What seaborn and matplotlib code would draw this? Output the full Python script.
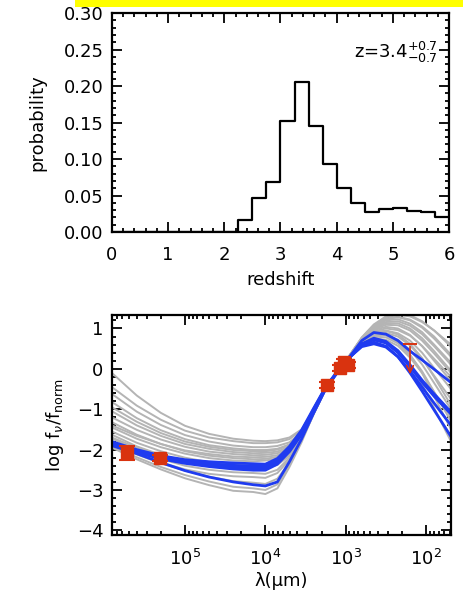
import numpy as np
import pandas as pd
import seaborn as sns
import matplotlib
matplotlib.use("Agg")
import matplotlib.pyplot as plt
from matplotlib.patches import Rectangle
from matplotlib.ticker import MultipleLocator, LogLocator, NullFormatter

# redshift probability distribution (bin lower edges, width 0.25)
z_lo = [2.25, 2.50, 2.75, 3.00, 3.25, 3.50, 3.75, 4.00, 4.25, 4.50, 4.75, 5.00, 5.25, 5.50, 5.75]
prob = [0.016, 0.046, 0.069, 0.152, 0.205, 0.145, 0.093, 0.061, 0.040, 0.027,
        0.032, 0.033, 0.029, 0.027, 0.021]

# SED templates, log10 f_nu/f_norm read at log10 lambda (um)
lam_log = [5.91, 5.6, 5.3, 5.0, 4.7, 4.4, 4.15, 4.0, 3.85, 3.7, 3.55, 3.4, 3.25,
           3.1, 2.95, 2.8, 2.65, 2.5, 2.35, 2.2, 2.05, 1.9, 1.69]

gray_seds = [
    [-0.10, -0.66, -1.09, -1.41, -1.61, -1.73, -1.78, -1.79, -1.77, -1.70, -1.50, -1.04, -0.48, -0.06, 0.34, 0.78, 1.10, 1.30, 1.38, 1.33, 1.18, 0.95, 0.55],
    [-0.45, -0.91, -1.26, -1.53, -1.70, -1.79, -1.84, -1.84, -1.82, -1.74, -1.52, -1.05, -0.48, -0.06, 0.33, 0.76, 1.06, 1.23, 1.28, 1.20, 1.02, 0.75, 0.30],
    [-0.62, -1.06, -1.39, -1.64, -1.80, -1.90, -1.94, -1.94, -1.91, -1.82, -1.57, -1.06, -0.48, -0.06, 0.33, 0.74, 1.02, 1.16, 1.18, 1.07, 0.86, 0.56, 0.10],
    [-0.82, -1.22, -1.52, -1.74, -1.89, -1.97, -2.01, -2.01, -1.98, -1.87, -1.60, -1.07, -0.49, -0.06, 0.32, 0.72, 0.98, 1.09, 1.08, 0.95, 0.70, 0.38, -0.10],
    [-1.05, -1.40, -1.66, -1.86, -1.98, -2.06, -2.09, -2.08, -2.05, -1.92, -1.62, -1.08, -0.49, -0.06, 0.34, 0.77, 1.08, 1.27, 1.34, 1.30, 1.16, 0.95, 0.60],
    [-1.20, -1.51, -1.75, -1.93, -2.05, -2.11, -2.14, -2.13, -2.09, -1.96, -1.64, -1.08, -0.49, -0.06, 0.32, 0.71, 0.96, 1.04, 1.00, 0.84, 0.56, 0.20, -0.30],
    [-1.32, -1.63, -1.86, -2.04, -2.15, -2.21, -2.24, -2.23, -2.18, -2.02, -1.67, -1.09, -0.49, -0.06, 0.31, 0.69, 0.90, 0.95, 0.88, 0.70, 0.40, 0.02, -0.50],
    [-1.45, -1.73, -1.94, -2.10, -2.21, -2.27, -2.29, -2.27, -2.22, -2.05, -1.68, -1.10, -0.49, -0.06, 0.33, 0.75, 1.04, 1.20, 1.23, 1.12, 0.91, 0.60, 0.15],
    [-1.55, -1.83, -2.04, -2.20, -2.31, -2.37, -2.39, -2.37, -2.30, -2.10, -1.70, -1.10, -0.50, -0.06, 0.31, 0.67, 0.86, 0.89, 0.80, 0.58, 0.25, -0.17, -0.75],
    [-1.63, -1.92, -2.13, -2.30, -2.40, -2.46, -2.49, -2.46, -2.38, -2.15, -1.72, -1.11, -0.50, -0.06, 0.31, 0.70, 0.93, 1.00, 0.96, 0.82, 0.57, 0.25, -0.20],
    [-1.72, -2.01, -2.23, -2.40, -2.50, -2.56, -2.58, -2.60, -2.50, -2.20, -1.74, -1.11, -0.50, -0.06, 0.30, 0.66, 0.83, 0.84, 0.72, 0.47, 0.11, -0.35, -1.00],
    [-1.80, -2.10, -2.32, -2.49, -2.60, -2.66, -2.68, -2.70, -2.58, -2.25, -1.75, -1.11, -0.50, -0.06, 0.32, 0.73, 1.00, 1.13, 1.13, 1.00, 0.76, 0.44, -0.05],
    [-1.88, -2.12, -2.34, -2.52, -2.67, -2.78, -2.82, -2.85, -2.72, -2.32, -1.76, -1.12, -0.50, -0.06, 0.30, 0.64, 0.80, 0.78, 0.63, 0.34, -0.06, -0.57, -1.30],
    [-1.92, -2.19, -2.43, -2.63, -2.79, -2.92, -2.96, -3.00, -2.86, -2.38, -1.77, -1.12, -0.50, -0.06, 0.31, 0.69, 0.90, 0.94, 0.85, 0.62, 0.27, -0.20, -0.90],
    [-1.95, -2.24, -2.49, -2.71, -2.88, -3.02, -3.05, -3.10, -2.96, -2.43, -1.82, -1.12, -0.50, -0.06, 0.29, 0.60, 0.70, 0.65, 0.45, 0.10, -0.38, -0.97, -1.80],
    [-1.40, -1.66, -1.86, -2.02, -2.11, -2.17, -2.19, -2.18, -2.14, -1.99, -1.65, -1.09, -0.49, -0.06, 0.33, 0.76, 1.06, 1.24, 1.29, 1.22, 1.05, 0.80, 0.35],
    [-0.95, -1.31, -1.59, -1.80, -1.93, -2.01, -2.04, -2.04, -2.00, -1.89, -1.61, -1.07, -0.49, -0.06, 0.30, 0.66, 0.84, 0.83, 0.67, 0.35, -0.10, -0.68, -1.50],
    [-1.70, -1.95, -2.14, -2.28, -2.37, -2.42, -2.44, -2.42, -2.34, -2.12, -1.71, -1.10, -0.50, -0.06, 0.30, 0.62, 0.75, 0.72, 0.57, 0.28, -0.10, -0.58, -1.20],
]

blue_seds = [
    [-1.80, -2.00, -2.15, -2.25, -2.30, -2.33, -2.35, -2.36, -2.22, -1.92, -1.52, -0.98, -0.45, -0.05, 0.30, 0.70, 0.90, 0.86, 0.70, 0.44, 0.22, -0.01, -0.34],
    [-1.84, -2.03, -2.19, -2.29, -2.35, -2.39, -2.41, -2.41, -2.27, -1.97, -1.56, -1.00, -0.46, -0.06, 0.30, 0.62, 0.76, 0.68, 0.45, 0.10, -0.28, -0.62, -1.07],
    [-1.86, -2.05, -2.21, -2.32, -2.39, -2.44, -2.46, -2.46, -2.32, -2.02, -1.60, -1.03, -0.47, -0.07, 0.29, 0.55, 0.62, 0.54, 0.30, -0.05, -0.45, -0.85, -1.40],
    [-1.88, -2.07, -2.23, -2.34, -2.42, -2.48, -2.51, -2.51, -2.36, -2.05, -1.63, -1.05, -0.48, -0.07, 0.29, 0.57, 0.66, 0.56, 0.30, -0.10, -0.55, -1.02, -1.68],
    [-1.90, -2.10, -2.32, -2.52, -2.68, -2.80, -2.87, -2.90, -2.80, -2.30, -1.74, -1.10, -0.50, -0.08, 0.28, 0.60, 0.72, 0.64, 0.40, 0.05, -0.33, -0.68, -1.12],
]

# photometry
phot_loglam = [5.72, 5.31, 3.23, 3.07, 3.02, 2.97]
phot_logf = [-2.08, -2.20, -0.40, 0.02, 0.18, 0.10]
phot_err = [0.18, 0.07, 0.07, 0.07, 0.07, 0.07]
lim_loglam = 2.20
lim_top = 0.62
lim_tip = -0.20


def to_long(seds):
    rows = []
    for i, sed in enumerate(seds):
        for ll, v in zip(lam_log, sed):
            rows.append({"curve": i, "lam": 10 ** ll, "logf": v})
    return pd.DataFrame(rows)


sns.set_style("ticks")
plt.rcParams["font.family"] = ["DejaVu Sans"]
plt.rcParams["mathtext.fontset"] = "dejavusans"
plt.rcParams["text.color"] = "black"
plt.rcParams["axes.labelcolor"] = "black"
plt.rcParams["xtick.color"] = "black"
plt.rcParams["ytick.color"] = "black"

fig = plt.figure(figsize=(4.64, 5.98), dpi=100)
fig.add_artist(Rectangle((0.162, 0.988), 0.84, 0.013, transform=fig.transFigure,
                         facecolor="#ffff00", edgecolor="none"))

# ---- top: redshift probability
ax1 = fig.add_axes([0.241, 0.612, 0.727, 0.366])
pz = pd.DataFrame({"z": [z + 0.125 for z in z_lo], "p": prob})
sns.histplot(data=pz, x="z", weights="p", bins=24, binrange=(0, 6), element="step",
             fill=False, color="black", linewidth=1.6, ax=ax1)
ax1.set_xlim(0, 6)
ax1.set_ylim(0, 0.30)
ax1.set_yticks([0, 0.05, 0.10, 0.15, 0.20, 0.25, 0.30])
ax1.set_yticklabels(["0.00", "0.05", "0.10", "0.15", "0.20", "0.25", "0.30"])
ax1.xaxis.set_minor_locator(MultipleLocator(0.2))
ax1.yaxis.set_minor_locator(MultipleLocator(0.01))
ax1.set_xlabel("redshift", fontsize=13, labelpad=5)
ax1.set_ylabel("probability", fontsize=13, labelpad=12)
ax1.text(0.965, 0.82, r"z=3.4$^{+0.7}_{-0.7}$", transform=ax1.transAxes,
         ha="right", va="center", fontsize=13)

# ---- bottom: SED
ax2 = fig.add_axes([0.241, 0.105, 0.731, 0.368])
sns.lineplot(data=to_long(gray_seds), x="lam", y="logf", units="curve", estimator=None,
             color="#b4b4b4", linewidth=1.4, sort=False, ax=ax2)
sns.lineplot(data=to_long(blue_seds), x="lam", y="logf", units="curve", estimator=None,
             color="#1f3bf0", linewidth=2.0, sort=False, ax=ax2)
red = "#d9330f"
phot_lam = [10 ** v for v in phot_loglam]
ax2.errorbar(phot_lam, phot_logf, yerr=phot_err, fmt="s", color=red, ms=8,
             capsize=6, elinewidth=1.5, capthick=1.5, zorder=5)
ax2.errorbar([10 ** lim_loglam], [lim_top], yerr=[[0], [0]], fmt="none", ecolor=red,
             capsize=5, capthick=1.2, zorder=5)
ax2.annotate("", xy=(10 ** lim_loglam, lim_tip), xytext=(10 ** lim_loglam, lim_top),
             arrowprops=dict(arrowstyle="->", color=red, lw=1.2, mutation_scale=12), zorder=5)
ax2.set_xscale("log")
ax2.set_xlim(10 ** 5.91, 10 ** 1.69)
ax2.set_ylim(-4.12, 1.33)
ax2.set_yticks([-4, -3, -2, -1, 0, 1])
ax2.set_yticklabels(["\u22124", "\u22123", "\u22122", "\u22121", "0", "1"])
ax2.xaxis.set_major_locator(LogLocator(base=10, numticks=10))
ax2.xaxis.set_minor_locator(LogLocator(base=10, subs=np.arange(2, 10), numticks=20))
ax2.xaxis.set_minor_formatter(NullFormatter())
ax2.yaxis.set_minor_locator(MultipleLocator(0.2))
ax2.set_xlabel("\u03bb(\u03bcm)", fontsize=13, labelpad=2)
ax2.set_ylabel(r"log f$_\nu$/f$_{\rm norm}$", fontsize=13, labelpad=8)

for ax in (ax1, ax2):
    ax.tick_params(which="both", direction="in", top=True, right=True, labelsize=13,
                   width=1.3, color="black", labelcolor="black")
    ax.tick_params(which="major", length=7, pad=6)
    ax.tick_params(which="minor", length=3)
    ax.tick_params(axis="x", which="major", pad=10)
    for s in ax.spines.values():
        s.set_linewidth(1.6)
        s.set_color("black")

fig.savefig("out.png", dpi=100)
